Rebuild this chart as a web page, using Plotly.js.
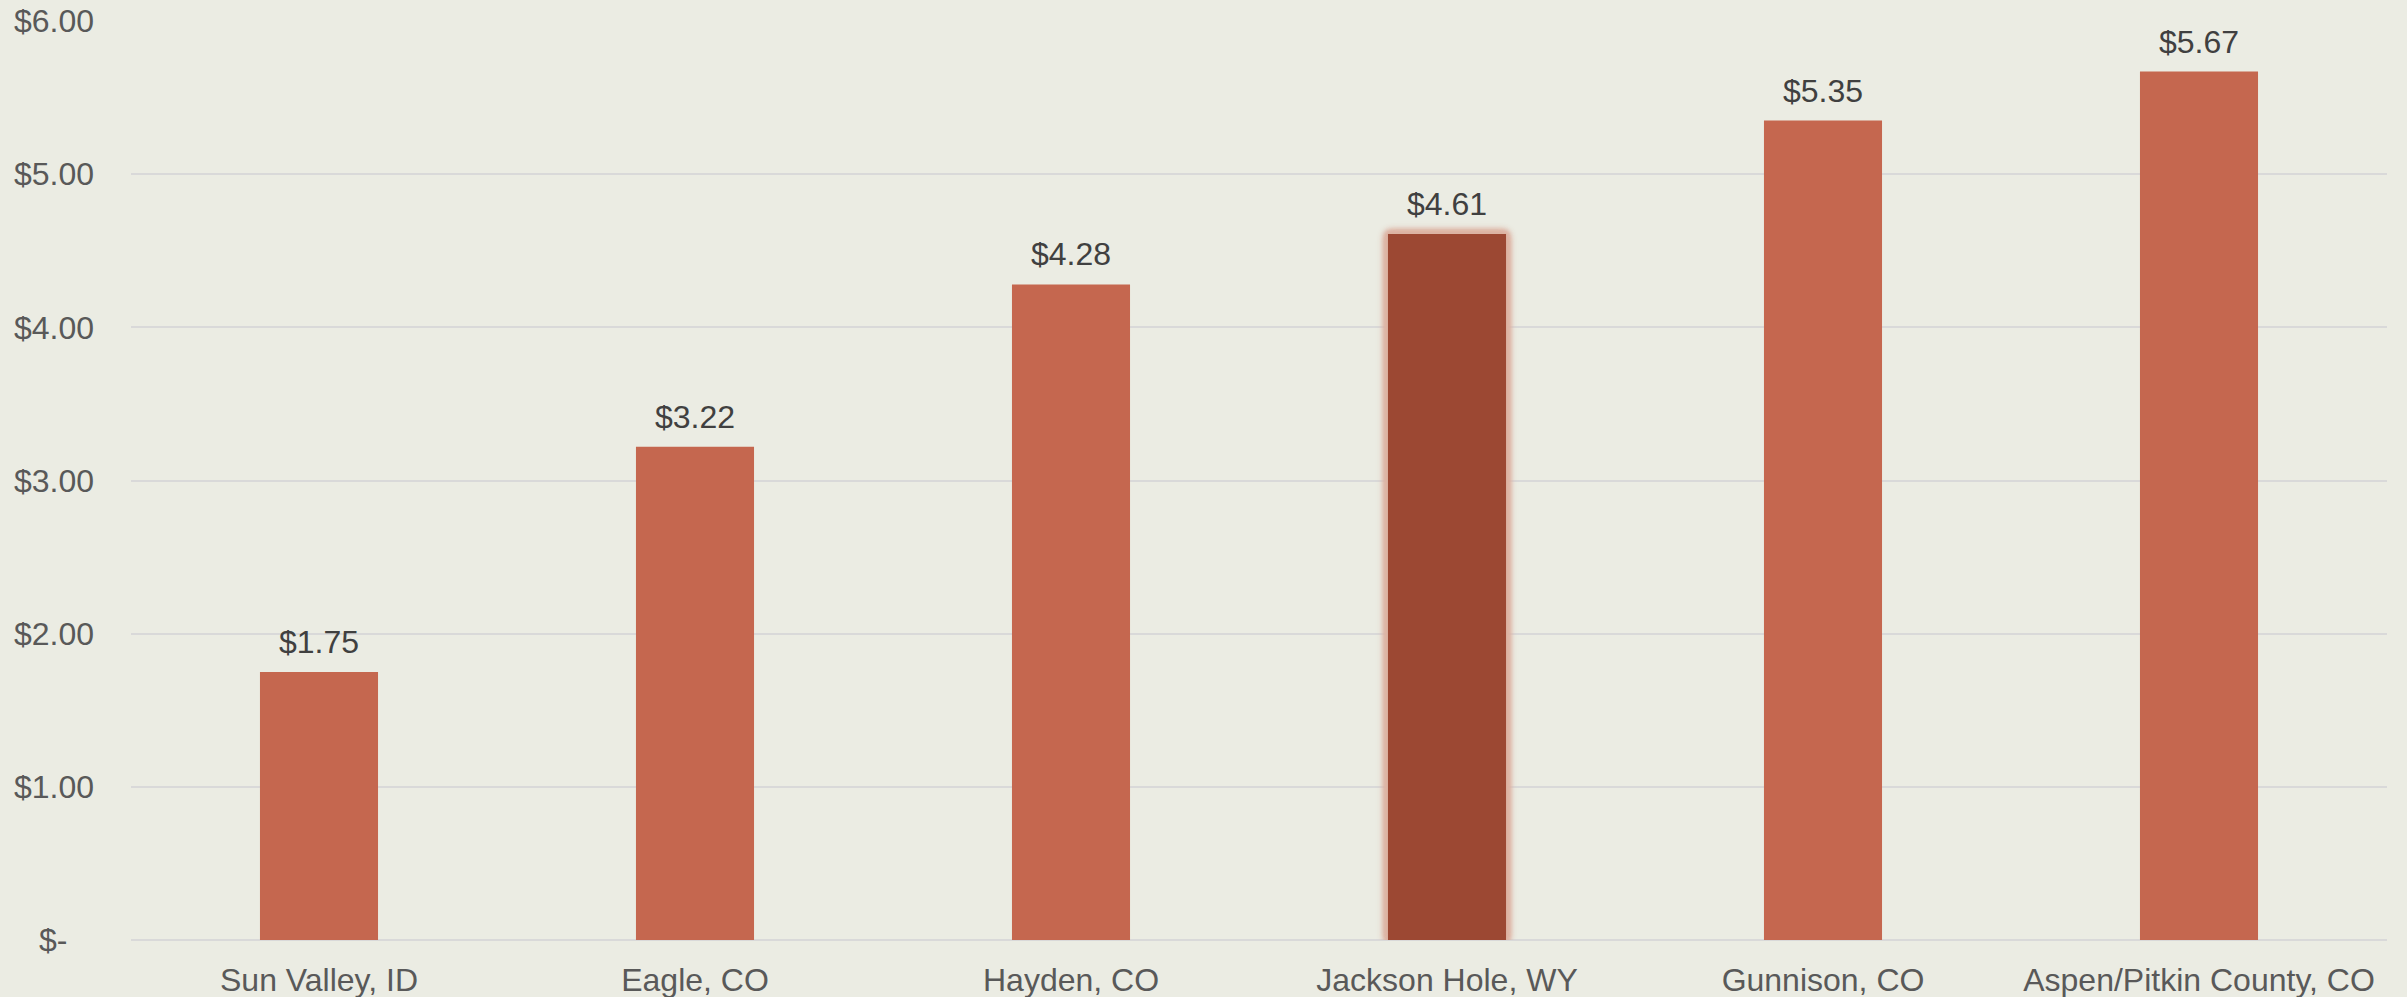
<!DOCTYPE html>
<html>
<head>
<meta charset="utf-8">
<script src="https://cdn.plot.ly/plotly-3.0.1.min.js"></script>
<style>
  html, body { margin: 0; padding: 0; background: #EBECE3; }
  #chart { width: 2407px; height: 997px; }
</style>
</head>
<body>
<div id="chart"></div>
<script>
// resort towns and their value
var towns = ["Sun Valley, ID", "Eagle, CO", "Hayden, CO", "Jackson Hole, WY", "Gunnison, CO", "Aspen/Pitkin County, CO"];
var prices = [1.75, 3.22, 4.28, 4.61, 5.35, 5.67];
var highlight = "Jackson Hole, WY";

var yTicks = [0, 1, 2, 3, 4, 5, 6];
var yTickText = ["$-\u00a0\u00a0\u00a0", "$1.00", "$2.00", "$3.00", "$4.00", "$5.00", "$6.00"];

var barColors = towns.map(function (t) { return t === highlight ? "#9C4833" : "#C5674F"; });

var trace = {
  type: "bar",
  x: towns,
  y: prices,
  width: 0.314,
  marker: { color: barColors },
  hoverinfo: "x+y"
};

var labels = towns.map(function (t, i) {
  return {
    x: t, y: prices[i],
    text: "$" + prices[i].toFixed(2),
    showarrow: false,
    yanchor: "bottom",
    yshift: 10,
    font: { size: 32, color: "#404040" }
  };
});

var layout = {
  width: 2407,
  height: 997,
  margin: { l: 131, r: 20, t: 21, b: 57 },
  paper_bgcolor: "#EBECE3",
  plot_bgcolor: "#EBECE3",
  font: { family: "Liberation Sans, Arial, sans-serif", size: 32, color: "#595959" },
  showlegend: false,
  xaxis: {
    type: "category",
    range: [-0.5, 5.5],
    showgrid: false,
    showline: false,
    zeroline: false,
    ticks: "",
    ticklabelstandoff: 18,
    tickfont: { size: 32, color: "#595959" },
    fixedrange: true
  },
  yaxis: {
    range: [0, 6],
    tickvals: yTicks,
    ticktext: yTickText,
    showgrid: true,
    gridcolor: "#D9D9D9",
    gridwidth: 2,
    zeroline: true,
    zerolinecolor: "#D9D9D9",
    zerolinewidth: 2,
    showline: false,
    ticks: "",
    ticklabelstandoff: 36,
    tickfont: { size: 32, color: "#595959" },
    fixedrange: true
  },
  annotations: labels
};

Plotly.newPlot("chart", [trace], layout, { displayModeBar: false, staticPlot: true }).then(function () {
  // soft glow around the highlighted bar
  var paths = document.querySelectorAll("#chart .bars .point path");
  var idx = towns.indexOf(highlight);
  if (paths[idx]) {
    var glow = [];
    for (var k = 0; k < 5; k++) glow.push("drop-shadow(0 0 2px #DDB3A3)");
    paths[idx].style.filter = glow.join(" ");
  }
});
</script>
</body>
</html>
